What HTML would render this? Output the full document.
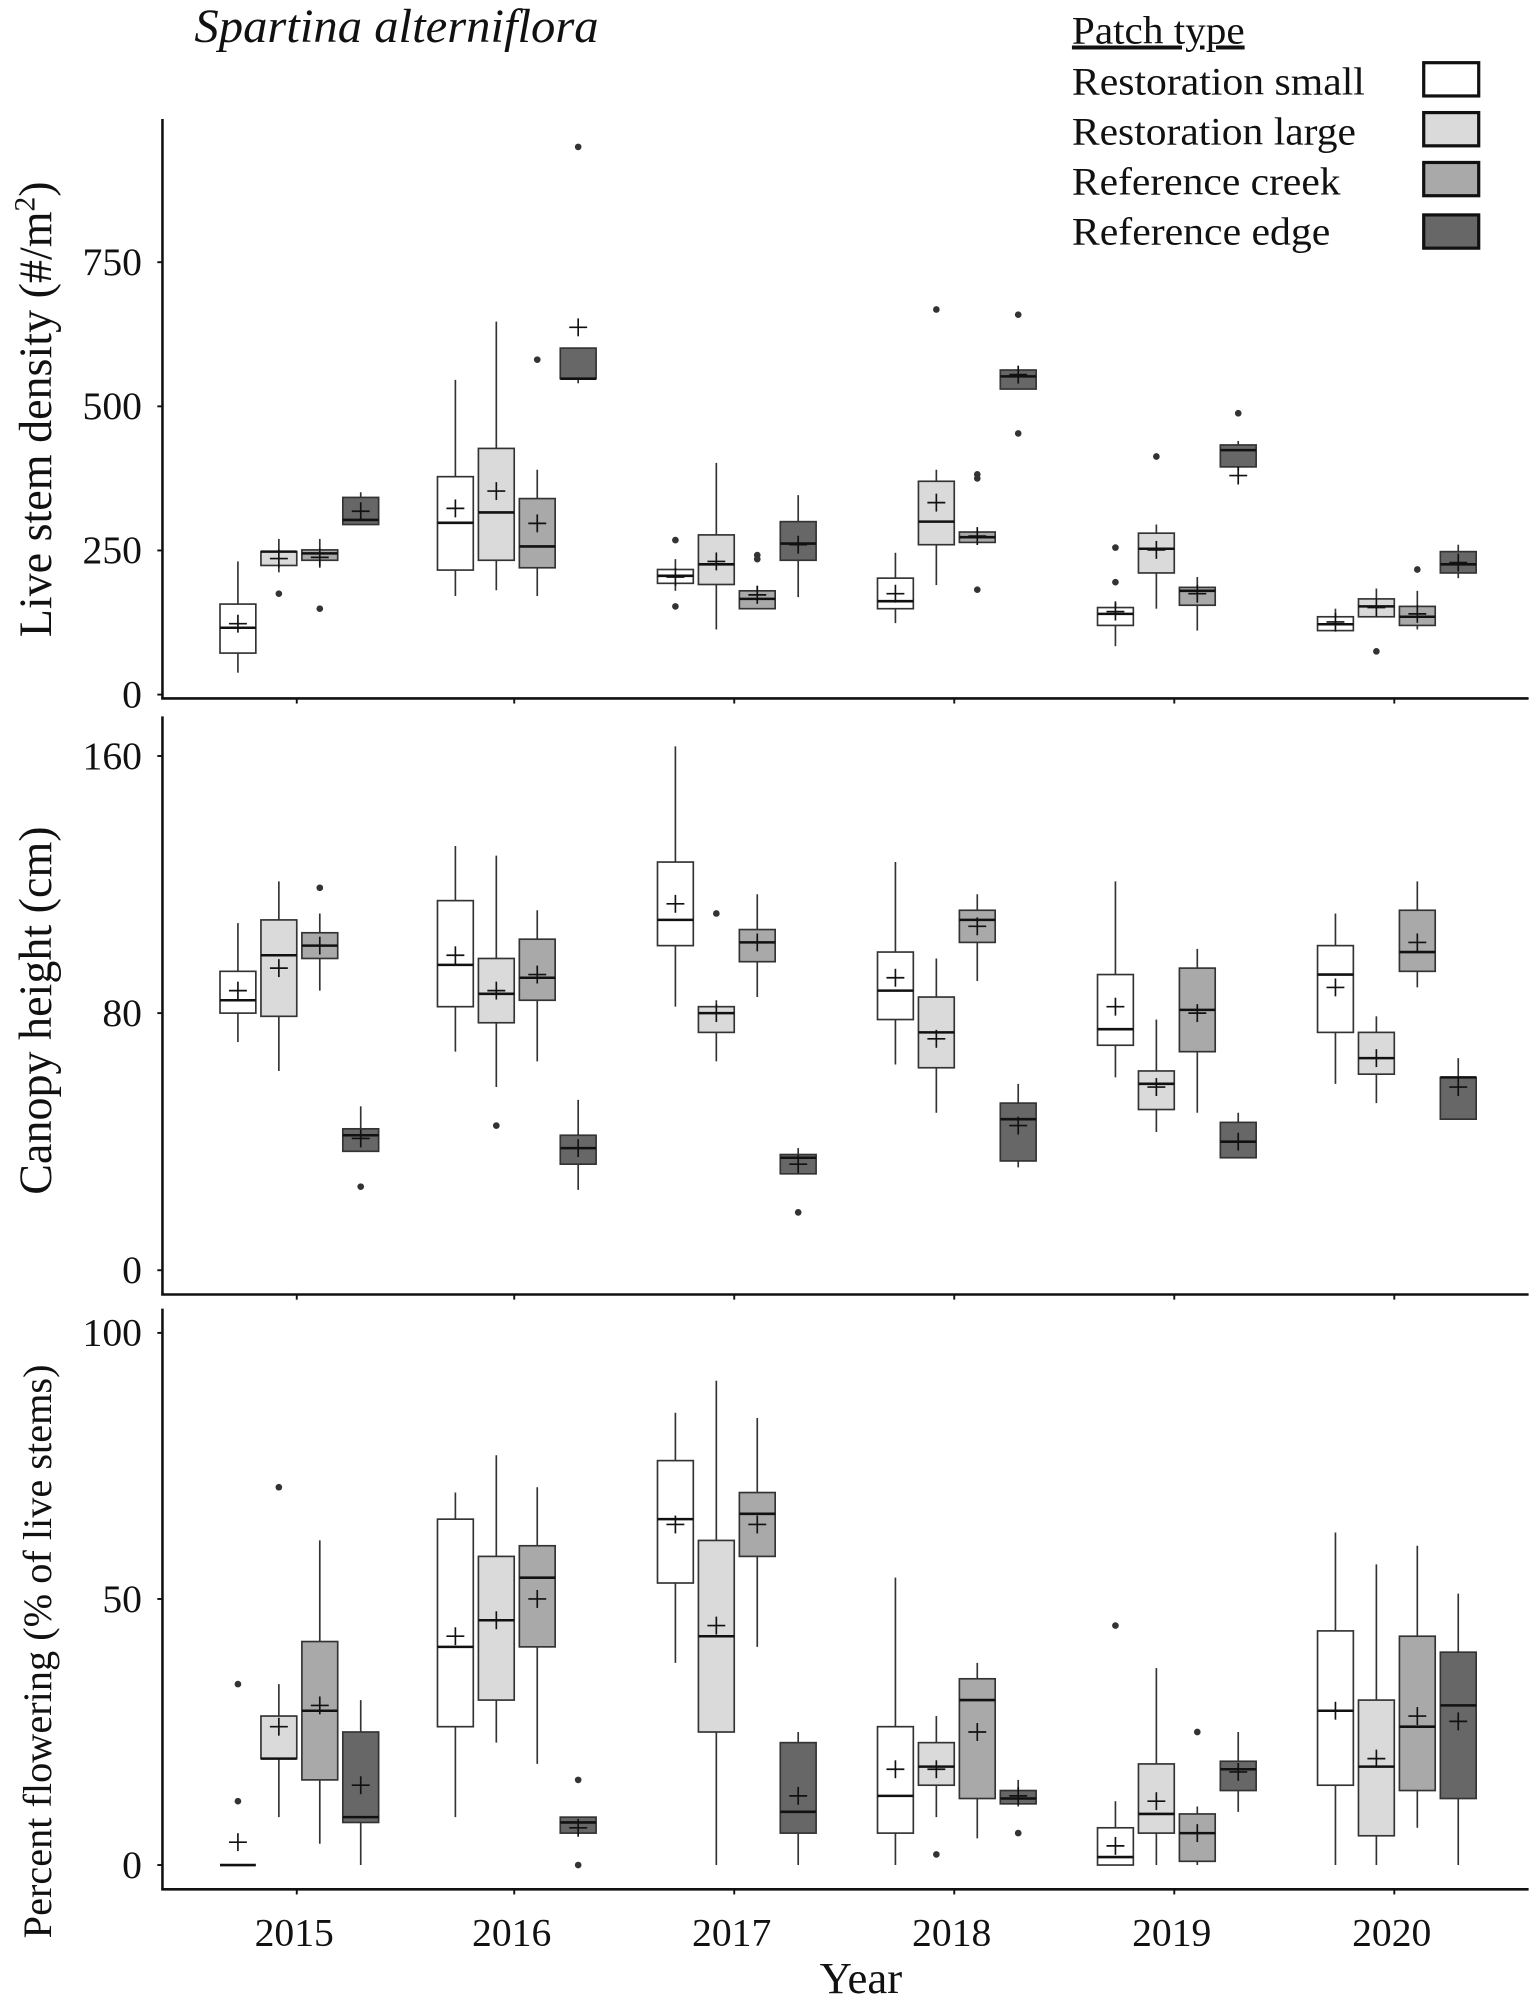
<!DOCTYPE html>
<html><head><meta charset="utf-8"><style>
html,body{margin:0;padding:0;background:#fff}
svg{display:block}
svg text{font-family:"Liberation Serif","Times New Roman","DejaVu Serif",serif;fill:#111}
</style></head><body>
<svg id="chart" width="1535" height="2000" viewBox="0 0 1200 1563.5" xmlns="http://www.w3.org/2000/svg" font-family="Liberation Serif, Times New Roman, serif">
<text x="152" y="33" font-size="37" font-style="italic" textLength="316" lengthAdjust="spacingAndGlyphs">Spartina alterniflora</text>
<g>
<text x="838" y="34" font-size="31" text-decoration="underline" textLength="135" lengthAdjust="spacingAndGlyphs">Patch type</text>
<text x="838" y="74" font-size="31" textLength="229" lengthAdjust="spacingAndGlyphs">Restoration small</text>
<text x="838" y="113" font-size="31" textLength="222" lengthAdjust="spacingAndGlyphs">Restoration large</text>
<text x="838" y="152" font-size="31" textLength="210" lengthAdjust="spacingAndGlyphs">Reference creek</text>
<text x="838" y="191" font-size="31" textLength="202" lengthAdjust="spacingAndGlyphs">Reference edge</text>
<rect x="1113" y="49" width="43" height="26" fill="#ffffff" stroke="#111" stroke-width="2.5"/>
<rect x="1113" y="88" width="43" height="26" fill="#dadada" stroke="#111" stroke-width="2.5"/>
<rect x="1113" y="127" width="43" height="26" fill="#a9a9a9" stroke="#111" stroke-width="2.5"/>
<rect x="1113" y="168" width="43" height="26" fill="#676767" stroke="#111" stroke-width="2.5"/>
</g>
<text transform="translate(40,320) rotate(-90)" text-anchor="middle" font-size="36">Live stem density (#/m<tspan font-size="23" dy="-13">2</tspan><tspan dy="13">)</tspan></text>
<text transform="translate(40,790) rotate(-90)" text-anchor="middle" font-size="36">Canopy height (cm)</text>
<text transform="translate(40,1291) rotate(-90)" text-anchor="middle" font-size="31.5">Percent flowering (% of live stems)</text>
<text x="673" y="1558" text-anchor="middle" font-size="35">Year</text>
<g id="plots"></g>
</svg>
<script>
const years = [2015, 2016, 2017, 2018, 2019, 2020];
const groups = ["Restoration small", "Restoration large", "Reference creek", "Reference edge"];
// ordering: year-major, group-minor (24 values)
const densLo  = [38,212,220,295, 171,181,171,540, 180,113,149,169, 124,190,264,530, 84,149,111,388, 109,135,113,202];
const densQ1  = [72,224,233,295, 216,233,220,548, 193,191,149,233, 149,260,264,530, 120,211,155,395, 111,135,120,211];
const densMed = [116,248,245,303, 298,316,257,548, 206,226,166,262, 162,300,273,552, 140,253,180,424, 122,153,135,226];
const densQ3  = [157,248,251,342, 378,427,340,601, 217,277,180,300, 202,370,282,563, 151,280,186,433, 135,166,153,248];
const densHi  = [231,270,270,351, 546,647,390,601, 235,402,189,346, 246,390,282,563, 162,295,204,440, 149,184,180,260];
const densMean= [123,236,238,318, 323,353,297,637, 204,231,173,260, 175,333,275,555, 144,251,175,380, 126,151,140,229];
const densOut = [[1,175],[2,149],[6,581],[7,950],[8,153],[8,268],[10,242],[10,235],[13,668],[14,382],[14,375],[14,182],[15,659],[15,453],[16,195],[16,255],[17,413],[19,488],[21,75],[22,217]];
const htLo  = [71,62,87,37, 68,57,65,25, 82,65,85,30, 64,49,90,32, 60,43,49,35, 58,52,88,47];
const htQ1  = [80,79,97,37, 82,77,84,33, 101,74,96,30, 78,63,102,34, 70,50,68,35, 74,61,93,47];
const htMed = [84,98,101,42, 95,86,91,38, 109,80,102,35, 87,74,109,47, 75,58,81,40, 92,66,99,60];
const htQ3  = [93,109,105,44, 115,97,103,42, 127,82,106,36, 99,85,112,52, 92,62,94,46, 101,74,112,60];
const htHi  = [108,121,111,51, 132,129,112,53, 163,84,117,38, 127,97,117,58, 121,78,100,49, 111,79,121,66];
const htMean= [87,94,101,41, 98,87,92,38, 114,80,102,33, 91,72,107,45, 82,57,80,40, 88,66,102,57];
const htOut = [[2,119],[3,26],[5,45],[9,111],[11,18]];
const flLo  = [0,9,4,0, 9,23,19,6, 38,0,41,0, 0,9,5,11, 0,0,0,10, 0,0,7,0];
const flQ1  = [0,20,16,8, 26,31,41,6, 53,25,58,6, 6,15,12.5,11.5, 0,6,0.7,14, 15,5.5,14,12.5];
const flMed = [0,20,29,9, 41,46,54,8, 65,43,66,10, 13,18.5,31,12.5, 1.5,9.6,6,18, 29,18.5,26,30];
const flQ3  = [0,28,42,25, 65,58,60,9, 76,61,70,23, 26,23,35,14, 7,19,9.6,19.5, 44,31,43,40];
const flHi  = [0,34,61,31, 70,77,71,9, 85,91,84,25, 54,28,38,16, 12,37,11,25, 62.5,56.5,60,51];
const flMean= [4.3,26,30,15, 43,46,50,7, 64,45,64,13, 18,18,25,13, 3.6,12,6,17.5, 29,20,28,27];
const flOut = [[0,34],[0,12],[1,71],[7,16],[7,0],[13,2],[15,6],[16,45],[18,25]];
const densTicks = [0, 250, 500, 750];
const htTicks = [0, 80, 160];
const flTicks = [0, 50, 100];
</script>
<script>
const NS = "http://www.w3.org/2000/svg";
const fills = ["#ffffff", "#dadada", "#a9a9a9", "#676767"];
const X0 = 127, X1 = 1195;
const yearX = { 2015: 232, 2016: 402, 2017: 574, 2018: 746, 2019: 918, 2020: 1090 };
const dodge = [-46, -14, 18, 50];
const BW = 28;
function xScale(yi, gi) { return yearX[years[yi]] + dodge[gi]; }
function mk(tag, attrs, parent) {
  const e = document.createElementNS(NS, tag);
  for (const k in attrs) e.setAttribute(k, attrs[k]);
  parent.appendChild(e);
  return e;
}
const root = document.getElementById("plots");
const panels = [
  { key: "density", top: 93, bottom: 546, y0: 543, k: 0.4507, lo: densLo, q1: densQ1, med: densMed, q3: densQ3, hi: densHi, mean: densMean, out: densOut, ticks: densTicks },
  { key: "height", top: 560, bottom: 1012, y0: 993, k: 2.5125, lo: htLo, q1: htQ1, med: htMed, q3: htQ3, hi: htHi, mean: htMean, out: htOut, ticks: htTicks },
  { key: "flowering", top: 1023, bottom: 1477, y0: 1458, k: 4.16, lo: flLo, q1: flQ1, med: flMed, q3: flQ3, hi: flHi, mean: flMean, out: flOut, ticks: flTicks }
];
panels.forEach((p, pi) => {
  const y = v => p.y0 - v * p.k;
  const g = mk("g", {}, root);
  
  
  const ya = mk("line", { x1: X0, y1: p.top, x2: X0, y2: p.bottom, stroke: "#111", "stroke-width": 2 }, g);
  
  
  const xa = mk("line", { x1: X0 - 1, y1: p.bottom, x2: X1, y2: p.bottom, stroke: "#111", "stroke-width": 2 }, g);
  
  
  p.ticks.forEach(t => {
    const tl = mk("line", { x1: X0 - 4, y1: y(t), x2: X0, y2: y(t), stroke: "#111", "stroke-width": 1.5 }, g);
    
    
    const tx = mk("text", { x: X0 - 16, y: y(t) + 10, "text-anchor": "end", "font-size": 31 }, g);
    tx.textContent = t;
    
    
  });
  years.forEach(yr => {
    const tl = mk("line", { x1: yearX[yr], y1: p.bottom, x2: yearX[yr], y2: p.bottom + 4, stroke: "#111", "stroke-width": 1.5 }, g);
    
    
    if (pi === 2) {
      const tx = mk("text", { x: yearX[yr] - 2, y: 1521, "text-anchor": "middle", "font-size": 31 }, g);
      tx.textContent = yr;
      
      
    }
  });
  for (let i = 0; i < 24; i++) {
    const yi = Math.floor(i / 4), gi = i % 4;
    const cx = xScale(yi, gi);
    const bg = mk("g", {}, g);
    
    
    mk("line", { x1: cx, y1: y(p.hi[i]), x2: cx, y2: y(p.lo[i]), stroke: "#333", "stroke-width": 1.3 }, bg);
    const h = Math.max(y(p.q1[i]) - y(p.q3[i]), 0);
    mk("rect", { x: cx - BW / 2, y: y(p.q3[i]), width: BW, height: h, fill: fills[gi], stroke: "#333", "stroke-width": 1.3 }, bg);
    mk("line", { x1: cx - BW / 2, y1: y(p.med[i]), x2: cx + BW / 2, y2: y(p.med[i]), stroke: "#111", "stroke-width": 2 }, bg);
    const my = y(p.mean[i]);
    mk("line", { x1: cx - 7, y1: my, x2: cx + 7, y2: my, stroke: "#111", "stroke-width": 1.3 }, bg);
    mk("line", { x1: cx, y1: my - 7, x2: cx, y2: my + 7, stroke: "#111", "stroke-width": 1.3 }, bg);
  }
  p.out.forEach(o => {
    const yi = Math.floor(o[0] / 4), gi = o[0] % 4;
    const c = mk("circle", { cx: xScale(yi, gi), cy: y(o[1]), r: 2.6, fill: "#333" }, g);
    
    
  });
});
</script>
</body></html>
